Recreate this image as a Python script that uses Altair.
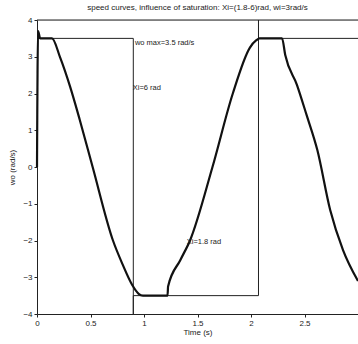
import altair as alt
import pandas as pd

# thick speed curve (Xi = 1.8 rad)
t_thick = [0.0, 0.01, 0.03, 0.14, 0.215, 0.31, 0.40, 0.52, 0.71, 0.80, 0.89, 0.95, 0.99,
           1.22, 1.225, 1.34, 1.43, 1.64, 1.83, 1.99, 2.05, 2.08, 2.29, 2.32, 2.43, 2.52,
           2.62, 2.74, 2.86, 3.0]
w_thick = [0.0, 3.7, 3.5, 3.5, 2.99, 2.18, 1.28, 0.0, -2.0, -2.65, -3.21, -3.45, -3.5,
           -3.5, -3.25, -2.53, -2.0, 0.0, 2.0, 3.25, 3.45, 3.5, 3.5, 3.05, 2.23, 1.41,
           0.46, -1.17, -2.26, -3.1]

# thin speed curve (Xi = 6 rad), saturated square
t_thin = [0.0, 0.9, 0.9, 0.9, 2.07, 2.07, 2.07, 3.0]
w_thin = [3.5, 3.5, -4.0, -3.5, -3.5, 4.0, 3.5, 3.5]

label_text = ["wo max=3.5 rad/s", "Xi=6 rad", "Xi=1.8 rad"]
label_t = [0.915, 0.895, 1.40]
label_w = [3.37, 2.15, -2.04]

x_ticks = [0, 0.5, 1, 1.5, 2, 2.5]
y_ticks = [-4, -3, -2, -1, 0, 1, 2, 3, 4]
y_top = [4]

thick_df = pd.DataFrame({"t": t_thick, "w": w_thick, "o": list(range(len(t_thick)))})
thin_df = pd.DataFrame({"t": t_thin, "w": w_thin, "o": list(range(len(t_thin)))})
lab_df = pd.DataFrame({"t": label_t, "w": label_w, "txt": label_text})
top_df = pd.DataFrame({"w": y_top})

FONT = "Liberation Sans"
xs = alt.Scale(domain=[0, 3.0], nice=False, zero=False)
ys = alt.Scale(domain=[-4, 4], nice=False, zero=False)

x_axis = alt.Axis(values=x_ticks, title="Time (s)", labelFontSize=8, titleFontSize=8,
                  labelFont=FONT, titleFont=FONT, tickSize=3, labelPadding=2,
                  titlePadding=1, grid=False, domainColor="#222", tickColor="#222",
                  labelColor="#222", titleColor="#222", labelFlush=False,
                  labelOverlap=False, titleFontWeight="normal",
                  labelExpr="datum.value == 0 ? '0' : format(datum.value, '.2~f')")
y_axis = alt.Axis(values=y_ticks, title="wo (rad/s)", labelFontSize=8, titleFontSize=8,
                  labelFont=FONT, titleFont=FONT, tickSize=3, labelPadding=2,
                  titlePadding=6, grid=False, domainColor="#222", tickColor="#222",
                  labelColor="#222", titleColor="#222", labelFlush=False,
                  labelOverlap=False, titleFontWeight="normal")

thin = alt.Chart(thin_df).mark_line(color="#222", strokeWidth=1).encode(
    x=alt.X("t:Q", scale=xs, axis=x_axis),
    y=alt.Y("w:Q", scale=ys, axis=y_axis),
    order="o:Q",
)

thick = alt.Chart(thick_df).mark_line(color="#111", strokeWidth=2.2, strokeJoin="round",
                                      interpolate="monotone").encode(
    x=alt.X("t:Q", scale=xs, axis=x_axis),
    y=alt.Y("w:Q", scale=ys, axis=y_axis),
    order="o:Q",
)

top = alt.Chart(top_df).mark_rule(color="#222", strokeWidth=1).encode(
    y=alt.Y("w:Q", scale=ys, axis=y_axis),
)

labels = alt.Chart(lab_df).mark_text(align="left", baseline="middle", fontSize=7.5,
                                     font=FONT, color="#222").encode(
    x=alt.X("t:Q", scale=xs, axis=x_axis),
    y=alt.Y("w:Q", scale=ys, axis=y_axis),
    text="txt:N",
)

chart = alt.layer(thin, thick, top, labels).properties(
    width=321, height=294,
    autosize=alt.AutoSizeParams(type="none"),
    padding={"left": 37, "top": 20, "right": 0, "bottom": 30},
    title=alt.TitleParams("speed curves, influence of saturation: Xi=(1.8-6)rad, wi=3rad/s",
                          fontSize=8, font=FONT, fontWeight="normal", color="#222",
                          offset=4),
).configure_view(stroke=None).configure(background="white")

chart.save("out.html", embed_options={"renderer": "svg", "actions": False})
